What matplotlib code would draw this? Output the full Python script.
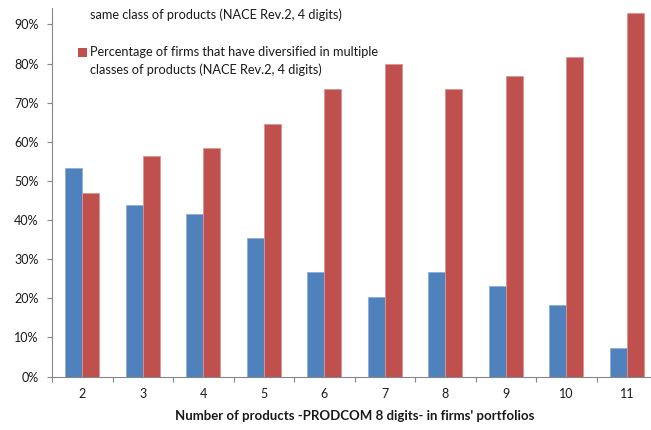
import matplotlib
matplotlib.use("Agg")
import matplotlib.pyplot as plt
from matplotlib.patches import Rectangle

# Share of firms by portfolio size (number of PRODCOM 8-digit products)
products = ["2", "3", "4", "5", "6", "7", "8", "9", "10", "11"]
same_class = [0.532, 0.439, 0.416, 0.353, 0.268, 0.203, 0.268, 0.231, 0.182, 0.074]
multiple_classes = [0.470, 0.564, 0.584, 0.646, 0.735, 0.799, 0.735, 0.769, 0.817, 0.928]
y_ticks = [0.0, 0.1, 0.2, 0.3, 0.4, 0.5, 0.6, 0.7, 0.8, 0.9]
y_tick_labels = ["0%", "10%", "20%", "30%", "40%", "50%", "60%", "70%", "80%", "90%"]
legend_same = "same class of products (NACE Rev.2, 4 digits)"
legend_multiple = "Percentage of firms that have diversified in multiple\nclasses of products (NACE Rev.2, 4 digits)"

BLUE = "#4F81BD"
RED = "#C0504D"
GRAY = "#868686"
TEXT = "#1A1A1A"

plt.rcParams["font.family"] = ["Lato", "DejaVu Sans"]

W, H = 651, 430
fig = plt.figure(figsize=(W / 100, H / 100), dpi=100)

# axes placed in pixel terms
left, right, top, bottom = 52, 657, 8, 376.5
ax = fig.add_axes([left / W, (H - bottom) / H, (right - left) / W, (bottom - top) / H])

x = list(range(len(products)))
bw = 0.28
ax.bar([i - bw / 2 for i in x], same_class, width=bw, color=BLUE,
       edgecolor="#8EACD6", linewidth=0.6, zorder=2)
ax.bar([i + bw / 2 for i in x], multiple_classes, width=bw, color=RED,
       edgecolor="#D99593", linewidth=0.6, zorder=2)

ax.set_xlim(-0.5, len(products) - 0.5)
ax.set_ylim(0, 0.942)

# y axis
ax.set_yticks(y_ticks)
ax.set_yticklabels(y_tick_labels)
ax.tick_params(axis="y", direction="out", length=3.6, width=0.8, color=GRAY,
               pad=6.0, labelsize=9, labelcolor=TEXT)

# x axis: tick marks between categories, labels at category centres
ax.set_xticks([i - 0.5 for i in range(len(products) + 1)])
ax.set_xticklabels([])
ax.tick_params(axis="x", which="major", direction="out", length=3.6, width=0.8, color=GRAY)
ax.set_xticks(x, minor=True)
ax.set_xticklabels(products, minor=True)
ax.tick_params(axis="x", which="minor", length=0, pad=8.5, labelsize=9, labelcolor=TEXT)

for s in ("top", "right"):
    ax.spines[s].set_visible(False)
for s in ("left", "bottom"):
    ax.spines[s].set_color(GRAY)
    ax.spines[s].set_linewidth(0.8)

fig.text((left + right) / 2 / W, 1 - 416 / H,
         "Number of products -PRODCOM 8 digits- in firms' portfolios",
         ha="center", va="center", fontsize=9.5, fontweight="bold", color=TEXT)

# legend drawn in pixel coordinates
def px(xp, yp):
    return xp / W, 1 - yp / H

line_gap = 18

# first entry: only its last line lies inside the canvas
tx, ty = px(90, 15)
fig.text(tx, ty, legend_same, ha="left", va="center", fontsize=9.2, color=TEXT)

# second entry with its colour swatch
sx, sy = px(78, 56.5)
fig.patches.append(Rectangle((sx, sy), 8.5 / W, 9 / H, transform=fig.transFigure,
                             facecolor=RED, edgecolor="none"))
for k, line in enumerate(legend_multiple.split("\n")):
    tx, ty = px(90, 52 + k * line_gap)
    fig.text(tx, ty, line, ha="left", va="center", fontsize=9.2, color=TEXT)

fig.savefig("out.png", dpi=100)
